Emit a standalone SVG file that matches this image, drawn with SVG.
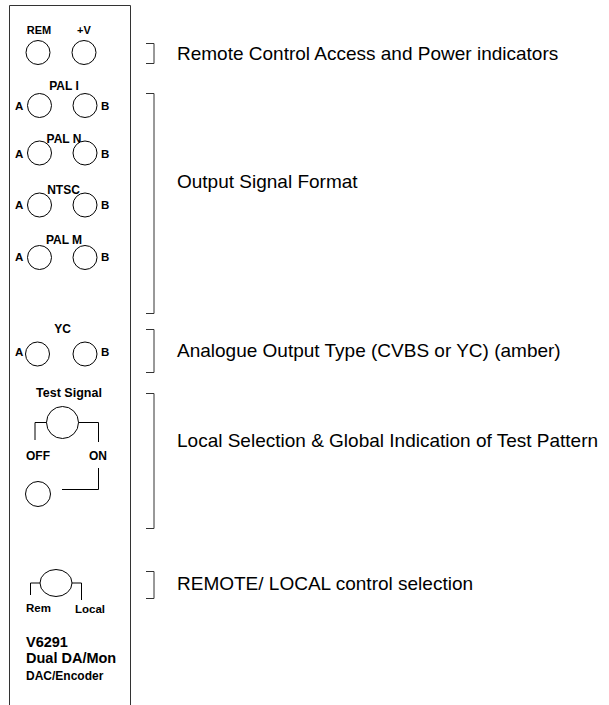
<svg xmlns="http://www.w3.org/2000/svg" width="609" height="705" viewBox="0 0 609 705">
<style>
.pnl{fill:none;stroke:#333;stroke-width:1}
.led{fill:#fff;stroke:#000;stroke-width:1}
.w{fill:none;stroke:#000;stroke-width:1}
.br{fill:none;stroke:#333;stroke-width:1}
.lb{font-family:"Liberation Sans",Arial,sans-serif;font-weight:bold;font-size:11.5px;fill:#000}
.hd{font-family:"Liberation Sans",Arial,sans-serif;font-weight:bold;font-size:12px;fill:#000}
.sm{font-family:"Liberation Sans",Arial,sans-serif;font-weight:bold;font-size:11px;fill:#000}
.big{font-family:"Liberation Sans",Arial,sans-serif;font-weight:bold;font-size:14.5px;fill:#000}
.tx{font-family:"Liberation Sans",Arial,sans-serif;font-size:19px;fill:#000}
</style>
<rect width="609" height="705" fill="#fff"/>
<path class="pnl" d="M9.5,705 V5.5 H130.5 V705"/>
<g id="rem-power">
<text class="sm" x="39" y="34" text-anchor="middle">REM</text>
<text class="sm" x="84" y="34" text-anchor="middle">+V</text>
<circle class="led" cx="38" cy="52.5" r="12"/>
<circle class="led" cx="84" cy="52.5" r="12"/>
</g>
<g id="pal-i">
<text class="hd" x="64" y="90" text-anchor="middle">PAL I</text>
<text class="lb" x="15" y="110">A</text>
<circle class="led" cx="39.5" cy="105.5" r="12"/>
<circle class="led" cx="85" cy="105.5" r="12"/>
<text class="lb" x="101" y="110">B</text>
</g>
<g id="pal-n">
<text class="hd" x="64" y="143" text-anchor="middle">PAL N</text>
<text class="lb" x="15" y="157.5">A</text>
<circle class="led" cx="39.5" cy="153" r="12"/>
<circle class="led" cx="85" cy="153" r="12"/>
<text class="lb" x="101" y="157.5">B</text>
</g>
<g id="ntsc">
<text class="hd" x="63.5" y="194" text-anchor="middle">NTSC</text>
<text class="lb" x="15" y="209">A</text>
<circle class="led" cx="39.5" cy="205" r="12"/>
<circle class="led" cx="85" cy="205" r="12"/>
<text class="lb" x="101" y="209">B</text>
</g>
<g id="pal-m">
<text class="hd" x="64" y="244" text-anchor="middle">PAL M</text>
<text class="lb" x="15" y="261">A</text>
<circle class="led" cx="39.5" cy="257.5" r="12"/>
<circle class="led" cx="85" cy="257.5" r="12"/>
<text class="lb" x="101" y="261">B</text>
</g>
<g id="yc">
<text class="hd" x="62.5" y="332.5" text-anchor="middle">YC</text>
<text class="lb" x="15" y="356">A</text>
<circle class="led" cx="37.5" cy="354" r="12"/>
<circle class="led" cx="85" cy="354" r="12"/>
<text class="lb" x="101" y="356">B</text>
</g>
<g id="test-signal">
<text class="hd" x="69" y="397" text-anchor="middle" style="font-size:12.5px">Test Signal</text>
<circle class="led" cx="62.5" cy="422.5" r="16"/>
<text class="hd" x="26" y="460">OFF</text>
<text class="hd" x="89" y="460">ON</text>
<circle class="led" cx="38" cy="494" r="12.5"/>
</g>
<g id="rem-local">
<ellipse class="led" cx="56" cy="583" rx="16" ry="13.5"/>
<text class="lb" x="26" y="612">Rem</text>
<text class="lb" x="75" y="613">Local</text>
</g>
<g id="title">
<text class="big" x="26" y="646.5">V6291</text>
<text class="big" x="26" y="662.5">Dual DA/Mon</text>
<text class="hd" x="26" y="679.5">DAC/Encoder</text>
</g>
<g id="connectors">
<path class="w" d="M46.5,422.5 H35 V440"/>
<path class="w" d="M78.5,422.5 H98.5 V442"/>
<path class="w" d="M98.5,468 V489.5 H62"/>
<path class="w" d="M40,583 H30.5 V595"/>
<path class="w" d="M72,583 H81.5 V600"/>
</g>
<g id="brackets">
<path class="br" d="M146,43.5 H154 V63.5 H146"/>
<path class="br" d="M146,93.5 H154 V313.5 H146"/>
<path class="br" d="M146,329.5 H154 V372.5 H146"/>
<path class="br" d="M146,393.5 H154 V528.5 H146"/>
<path class="br" d="M146,571.5 H154 V598.5 H146"/>
</g>
<g id="descriptions">
<text class="tx" x="177" y="59.5">Remote Control Access and Power indicators</text>
<text class="tx" x="177" y="187.5">Output Signal Format</text>
<text class="tx" x="177" y="356.5">Analogue Output Type (CVBS or YC) (amber)</text>
<text class="tx" x="177" y="446.5">Local Selection &amp; Global Indication of Test Pattern</text>
<text class="tx" x="177" y="590">REMOTE/ LOCAL control selection</text>
</g>
</svg>
